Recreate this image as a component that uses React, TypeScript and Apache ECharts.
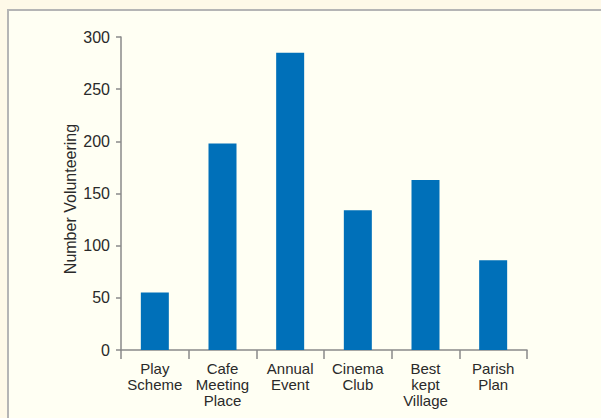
import React, { useEffect, useRef } from "react";
import * as echarts from "echarts";

const categories = [
  "Play\nScheme",
  "Cafe\nMeeting\nPlace",
  "Annual\nEvent",
  "Cinema\nClub",
  "Best\nkept\nVillage",
  "Parish\nPlan",
];
const volunteers = [55, 198, 285, 134, 163, 86];
const yAxisTitle = "Number Volunteering";

const FONT = "'Liberation Sans', Arial, Helvetica, sans-serif";

export default function App() {
  const ref = useRef<HTMLDivElement>(null);
  useEffect(() => {
    if (!ref.current) return;
    const chart = echarts.init(ref.current, undefined, { renderer: "svg" });
    chart.setOption({
      animation: false,
      grid: { left: 121, right: 74, top: 37, bottom: 68 },
      xAxis: {
        type: "category",
        data: categories,
        axisLine: { lineStyle: { color: "#8a8a8a", width: 1.5 } },
        axisTick: { show: true, alignWithLabel: false, length: 9, lineStyle: { color: "#8a8a8a", width: 1.5 } },
        axisLabel: {
          interval: 0,
          margin: 10,
          color: "#2a2a2a",
          fontSize: 15,
          lineHeight: 16,
          fontFamily: FONT,
        },
      },
      yAxis: {
        type: "value",
        min: 0,
        max: 300,
        interval: 50,
        splitLine: { show: false },
        axisLine: { show: true, lineStyle: { color: "#8a8a8a", width: 1.5 } },
        axisTick: { show: true, length: 5, lineStyle: { color: "#8a8a8a", width: 1.5 } },
        axisLabel: {
          margin: 11,
          color: "#2a2a2a",
          fontSize: 16,
          fontFamily: FONT,
        },
      },
      graphic: [
        {
          type: "text",
          x: 70,
          y: 199,
          rotation: Math.PI / 2,
          style: {
            text: yAxisTitle,
            fontSize: 16,
            fontFamily: FONT,
            fill: "#2a2a2a",
            textAlign: "center",
            textVerticalAlign: "middle",
          },
        },
      ],
      series: [
        {
          type: "bar",
          data: volunteers,
          barWidth: 28,
          itemStyle: { color: "#0070b9" },
        },
      ],
    });
    return () => chart.dispose();
  }, []);
  return (
    <div style={{ position: "absolute", left: 0, top: 0, width: 601, height: 418, background: "#fef9e8", overflow: "hidden" }}>
      <div
        style={{
          position: "absolute",
          left: 7,
          top: 9,
          width: 700,
          height: 500,
          background: "#fffff3",
          border: "2px solid #b5b5b5",
        }}
      />
      <div ref={ref} style={{ position: "absolute", left: 0, top: 0, width: 601, height: 418 }} />
    </div>
  );
}
